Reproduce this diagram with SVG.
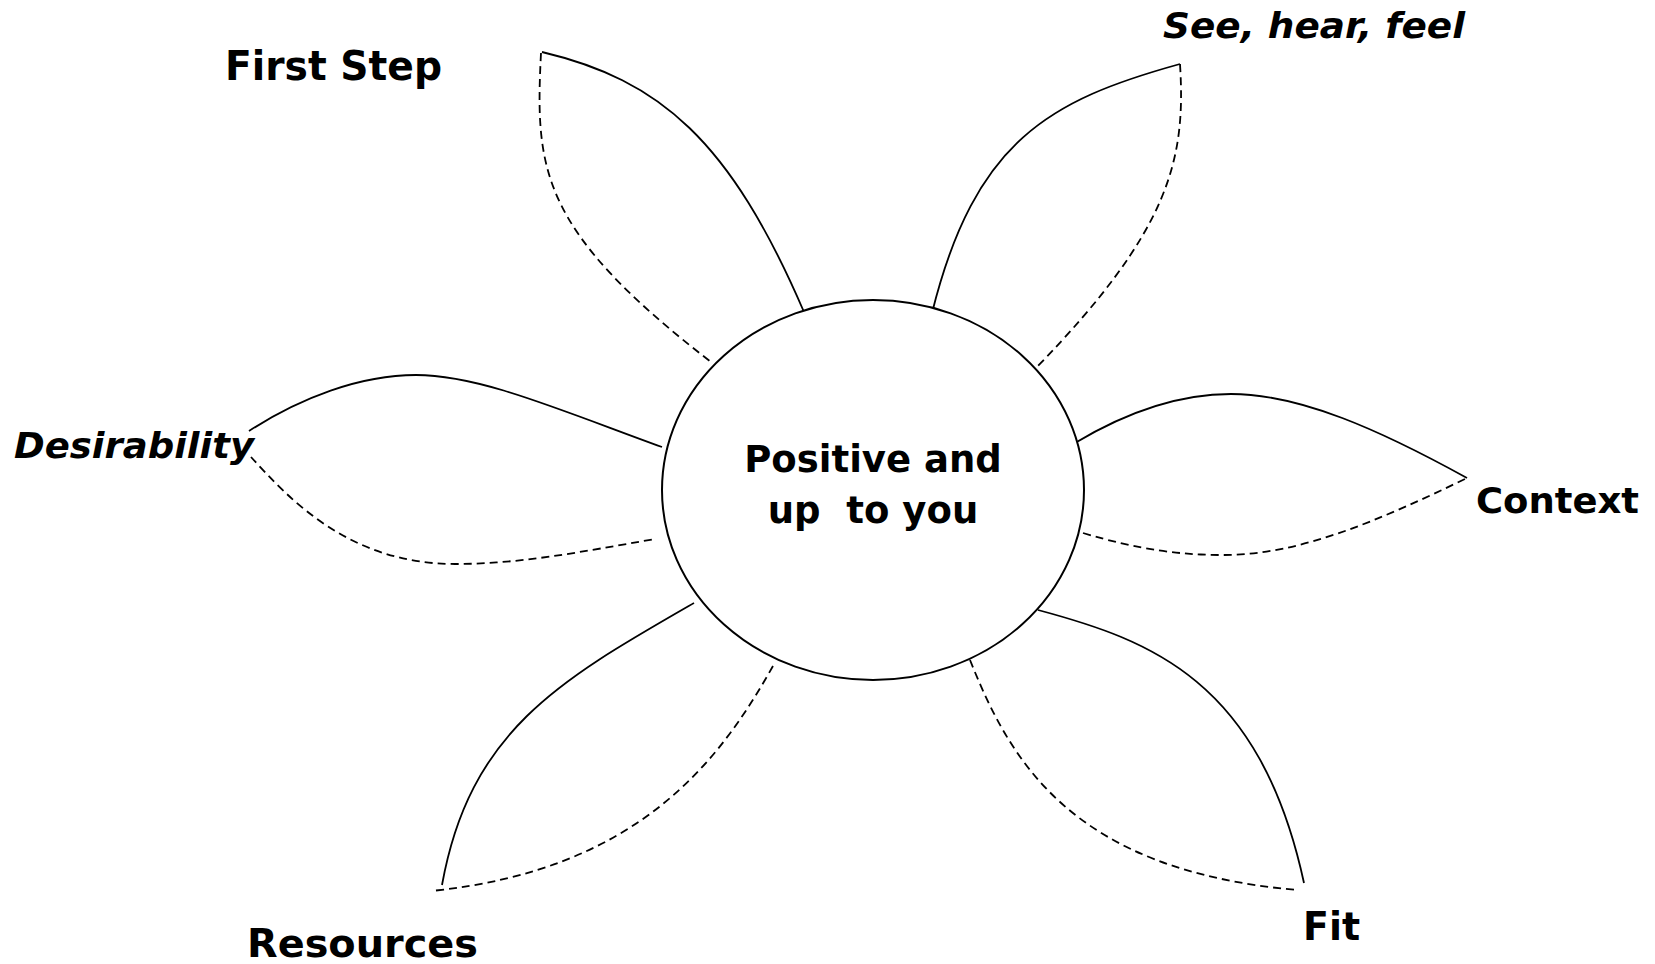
<svg xmlns="http://www.w3.org/2000/svg" width="1655" height="964" viewBox="0 0 1655 964">
<style>
  .bg { fill: #ffffff; }
  .core { fill: #ffffff; stroke: #000000; stroke-width: 2; }
  .solid { fill: none; stroke: #000000; stroke-width: 1.8; }
  .dash { fill: none; stroke: #000000; stroke-width: 1.8; stroke-dasharray: 8 5; }
  .lbl { font-family: "DejaVu Sans", Verdana, sans-serif; font-weight: bold; fill: #000000; white-space: pre; }
  .it { font-style: italic; }
</style>
<rect class="bg" x="0" y="0" width="1655" height="964"/>

<g id="connectors">
  <g id="petal-first-step">
    <path class="solid" d="M542,52 C660,80 730,140 804,312"/>
    <path class="dash" d="M541,53 C535,170 540,230 711,362"/>
  </g>
  <g id="petal-see-hear-feel">
    <path class="solid" d="M1180,64 C1050,100 975,140 932,313"/>
    <path class="dash" d="M1180,64 C1186,160 1170,230 1036,368"/>
  </g>
  <g id="petal-desirability">
    <path class="solid" d="M249,431 C300,398 360,375 416,375 C480,375 560,410 662,447"/>
    <path class="dash" d="M251,457 C290,500 350,564 455,564 C520,564 580,552 655,539"/>
  </g>
  <g id="petal-context">
    <path class="solid" d="M1075,443 C1130,410 1180,394 1231,394 C1300,394 1380,430 1467,478"/>
    <path class="dash" d="M1083,533 C1140,550 1180,555 1224,555 C1300,555 1380,520 1467,478"/>
  </g>
  <g id="petal-resources">
    <path class="solid" d="M694,603 C560,680 470,730 442,885"/>
    <path class="dash" d="M773,666 C720,760 640,870 431,891"/>
  </g>
  <g id="petal-fit">
    <path class="solid" d="M1038,610 C1150,640 1260,680 1304,883"/>
    <path class="dash" d="M970,660 C1010,760 1070,870 1297,890"/>
  </g>
</g>

<g id="center">
  <ellipse class="core" cx="873" cy="490" rx="211" ry="190"/>
  <text class="lbl" x="873" y="472" font-size="37" text-anchor="middle">Positive and</text>
  <text class="lbl" x="873" y="523" font-size="37" text-anchor="middle">up  to you</text>
</g>

<g id="label-first-step">
  <text class="lbl" x="225" y="80" font-size="40" textLength="217" lengthAdjust="spacingAndGlyphs">First Step</text>
</g>
<g id="label-see-hear-feel">
  <text class="lbl it" x="1163" y="38" font-size="36" textLength="302" lengthAdjust="spacingAndGlyphs">See, hear, feel</text>
</g>
<g id="label-desirability">
  <text class="lbl it" x="14" y="458" font-size="36" textLength="240" lengthAdjust="spacingAndGlyphs">Desirability</text>
</g>
<g id="label-context">
  <text class="lbl" x="1476" y="513" font-size="36" textLength="163" lengthAdjust="spacingAndGlyphs">Context</text>
</g>
<g id="label-resources">
  <text class="lbl" x="247" y="957" font-size="39" textLength="231" lengthAdjust="spacingAndGlyphs">Resources</text>
</g>
<g id="label-fit">
  <text class="lbl" x="1303" y="940" font-size="39" textLength="57" lengthAdjust="spacingAndGlyphs">Fit</text>
</g>
</svg>
